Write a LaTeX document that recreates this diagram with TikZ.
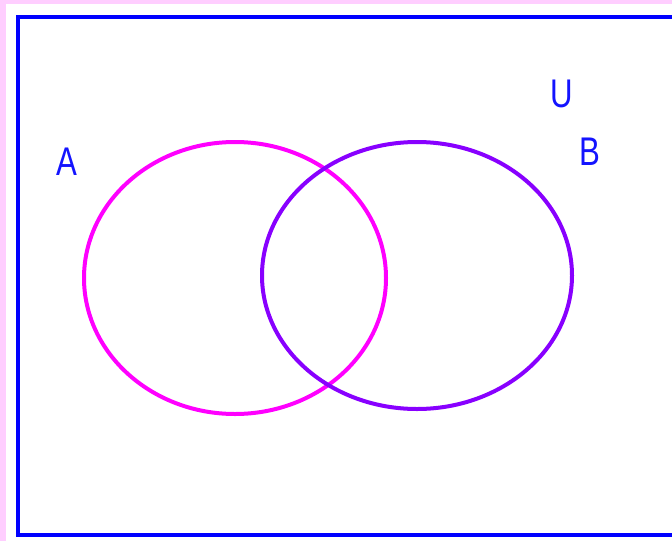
\documentclass[tikz,border=0pt]{standalone}
\usepackage{fontspec}
\setmainfont{Liberation Sans}
\definecolor{bgpink}{RGB}{255,206,255}
\definecolor{framblue}{RGB}{0,0,255}
\definecolor{setA}{RGB}{255,0,255}
\definecolor{setB}{RGB}{136,0,255}
\definecolor{lblblue}{RGB}{20,20,255}
\tikzset{
  setline/.style={line width=4pt},
  lbl/.style={inner sep=0pt, text=lblblue, font=\fontsize{40}{40}\selectfont}
}
\begin{document}
\begin{tikzpicture}[x=1pt,y=-1pt]
\useasboundingbox (0,0) rectangle (672,541);
\clip (0,0) rectangle (672,541);
\fill[bgpink] (0,0) rectangle (672,541);
\fill[white] (6,4) rectangle (672,541);
\draw[framblue, line width=4pt] (18,16.5) rectangle (690,535);
\draw[setA, setline] (235,278) ellipse [x radius=151, y radius=136];
\draw[setB, setline] (417,275.5) ellipse [x radius=155, y radius=133.5];
\node[lbl] (labA) at (67,162) {\scalebox{0.78}[1]{A}};
\node[lbl] (labU) at (562,94) {\scalebox{0.78}[1]{U}};
\node[lbl] (labB) at (590,152) {\scalebox{0.78}[1]{B}};
\end{tikzpicture}
\end{document}
